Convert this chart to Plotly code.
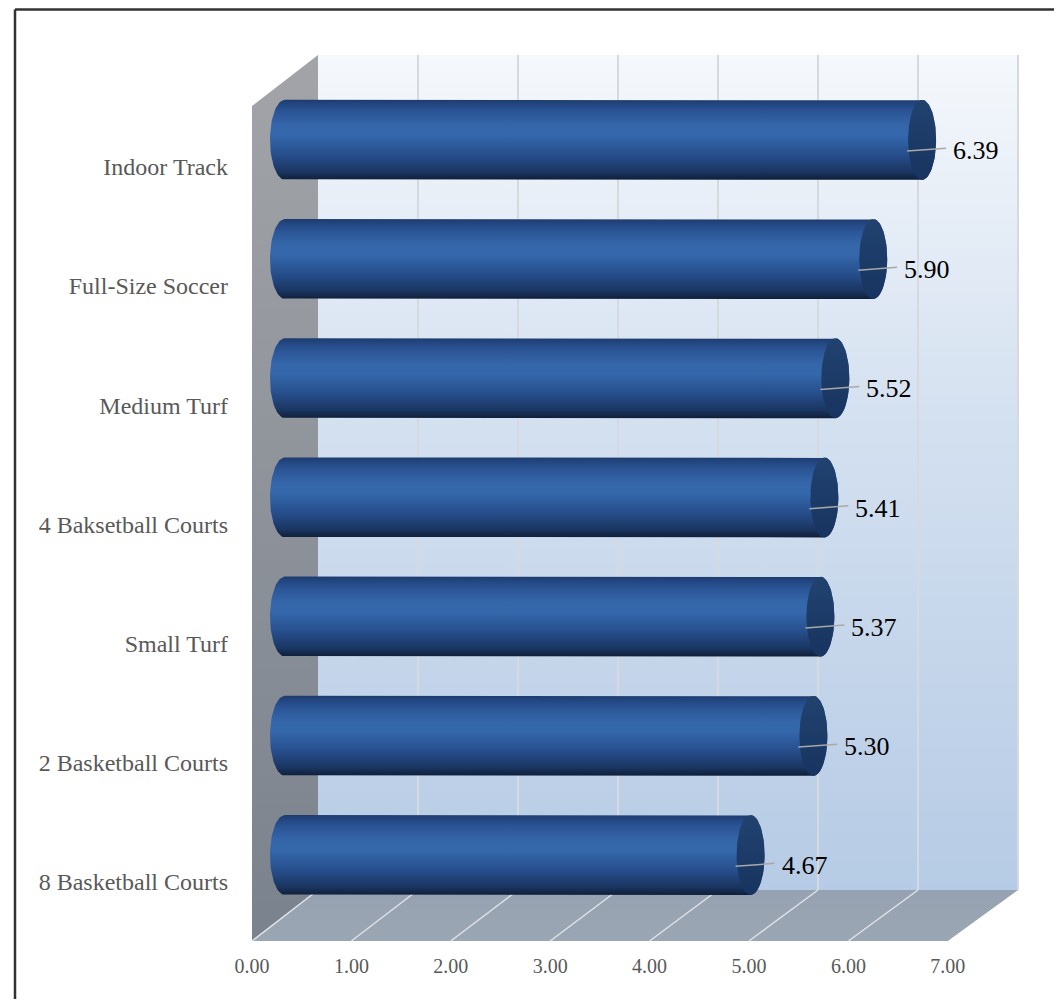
import numpy as np
import plotly.graph_objects as go

# ---------------- data ----------------
categories = ["8 Basketball Courts", "2 Basketball Courts", "Small Turf",
              "4 Baksetball Courts", "Medium Turf", "Full-Size Soccer", "Indoor Track"]
values = [4.67, 5.30, 5.37, 5.41, 5.52, 5.90, 6.39]
x_ticks = [0, 1, 2, 3, 4, 5, 6, 7]
x_tick_labels = ["0.00", "1.00", "2.00", "3.00", "4.00", "5.00", "6.00", "7.00"]

# ---------------- layout geometry (pixels, page coordinates) ----------------
W, H = 1062, 1007
OFF = 8                            # page body margin
WF, HF = W - 2 * OFF, H - 2 * OFF  # figure size
FX0, FS, FY = 252, 99.4, 941       # front floor edge
BX0, BS, BY, TY = 318, 100.0, 890, 55   # back wall
MX0, MS = 285, 99.7                # bar plane
CY0, CS = 855, 119.2               # first bar centre, spacing
XMAX = x_ticks[-1]
DEPTH_DY = FY - BY

SERIF = "Liberation Serif, Times New Roman, serif"

fig = go.Figure()

def poly(xs, ys, **kw):
    xs = list(xs) + [xs[0]]
    ys = list(ys) + [ys[0]]
    fig.add_trace(go.Scatter(x=xs, y=ys, mode="lines", fill="toself",
                             line=dict(width=0), hoverinfo="skip",
                             showlegend=False, **kw))

# back wall
poly([BX0, BX0 + XMAX * BS, BX0 + XMAX * BS, BX0], [TY, TY, BY, BY],
     fillgradient=dict(type="vertical", start=TY, stop=BY,
                       colorscale=[[0, "#f5f8fc"], [0.45, "#d3e0f0"], [1, "#b6cbe5"]]))
# left wall
poly([FX0, FX0, BX0, BX0], [FY, TY + DEPTH_DY, TY, BY],
     fillgradient=dict(type="vertical", start=TY, stop=FY,
                       colorscale=[[0, "#a2a4a8"], [1, "#7a828d"]]))
# floor
poly([FX0, FX0 + XMAX * FS, BX0 + XMAX * BS, BX0], [FY, FY, BY, BY],
     fillgradient=dict(type="vertical", start=BY, stop=FY,
                       colorscale=[[0, "#96a2b1"], [1, "#9ba6b4"]]))

# back-wall gridlines
gx, gy = [], []
for t in x_ticks[1:]:
    gx += [BX0 + t * BS, BX0 + t * BS, None]
    gy += [TY, BY, None]
fig.add_trace(go.Scatter(x=gx, y=gy, mode="lines", line=dict(color="#d6d9dd", width=2),
                         hoverinfo="skip", showlegend=False))
# floor gridlines
fx, fy = [], []
for t in x_ticks[:-1]:
    fx += [FX0 + t * FS, BX0 + t * BS, None]
    fy += [FY, BY, None]
fig.add_trace(go.Scatter(x=fx, y=fy, mode="lines", line=dict(color="#dfe3e8", width=1.5),
                         hoverinfo="skip", showlegend=False))

# dummy trace for front-plane tick axis
fig.add_trace(go.Scatter(x=[0], y=[0], xaxis="x3", yaxis="y", mode="markers",
                         marker=dict(opacity=0), hoverinfo="skip", showlegend=False))

# ---------------- cylinders ----------------
RX_END = 14 / MS
RX_START = 15 / MS
RY = 40 / CS
bar_scale = [[0, "#0f1f3a"], [0.1, "#1a3560"], [0.3, "#264d8a"], [0.55, "#3467ab"],
             [0.68, "#3566aa"], [0.85, "#2b5595"], [0.95, "#224580"], [1, "#1e3c6c"]]
th_r = np.linspace(np.pi / 2, -np.pi / 2, 40)
th_l = np.linspace(3 * np.pi / 2, np.pi / 2, 40)
th_full = np.linspace(0, 2 * np.pi, 80)

for i, (cat, v) in enumerate(zip(categories, values)):
    c = i
    xs = np.concatenate([[0, v], v + RX_END * np.cos(th_r), [v, 0], RX_START * np.cos(th_l)])
    ys = np.concatenate([[c + RY, c + RY], c + RY * np.sin(th_r), [c - RY, c - RY],
                         c + RY * np.sin(th_l)])
    fig.add_trace(go.Scatter(x=xs, y=ys, xaxis="x2", yaxis="y2", mode="lines", fill="toself",
                             line=dict(width=0), hoverinfo="skip", showlegend=False,
                             fillgradient=dict(type="vertical", start=c - RY, stop=c + RY,
                                               colorscale=bar_scale)))
    # end cap
    fig.add_trace(go.Scatter(x=v + RX_END * np.cos(th_full), y=c + RY * np.sin(th_full),
                             xaxis="x2", yaxis="y2", mode="lines", fill="toself",
                             line=dict(width=0), hoverinfo="skip", showlegend=False,
                             fillgradient=dict(type="vertical", start=c - RY, stop=c + RY,
                                               colorscale=[[0, "#183460"], [1, "#21426f"]])))
    # leader line
    fig.add_trace(go.Scatter(x=[v - 0.15, v + 0.24], y=[c - 0.095, c - 0.07],
                             xaxis="x2", yaxis="y2", mode="lines",
                             line=dict(color="#a8a8a8", width=1.5),
                             hoverinfo="skip", showlegend=False))
    fig.add_annotation(x=v + 0.29, y=c - 0.09, xref="x2", yref="y2", text=f"{v:.2f}",
                       showarrow=False, xanchor="left", yanchor="middle",
                       font=dict(family=SERIF, size=26, color="#000000"))

# ---------------- layout ----------------
fig.update_layout(
    width=WF, height=HF,
    margin=dict(l=0, r=0, t=0, b=0),
    paper_bgcolor="white", plot_bgcolor="rgba(0,0,0,0)",
    xaxis=dict(range=[OFF, OFF + WF], visible=False, fixedrange=True),
    yaxis=dict(range=[OFF + HF, OFF], visible=False, fixedrange=True),
    xaxis2=dict(range=[(OFF - MX0) / MS, (OFF + WF - MX0) / MS], overlaying="x",
                anchor="y2", visible=False, fixedrange=True),
    yaxis2=dict(range=[(CY0 - OFF - HF) / CS, (CY0 - OFF) / CS], overlaying="y",
                anchor="free", position=(228 - OFF) / WF, showgrid=False, zeroline=False,
                showline=False, ticks="",
                tickvals=[i - 27 / CS for i in range(len(categories))],
                ticktext=categories,
                tickfont=dict(family=SERIF, size=24, color="#595959"), fixedrange=True),
    xaxis3=dict(range=[(OFF - FX0) / FS, (OFF + WF - FX0) / FS], overlaying="x",
                anchor="free", position=(OFF + HF - 952) / HF, showgrid=False,
                zeroline=False, showline=False, ticks="", tickvals=x_ticks,
                ticktext=x_tick_labels,
                tickfont=dict(family=SERIF, size=20, color="#595959"), fixedrange=True),
    shapes=[
        dict(type="line", xref="x", yref="y", x0=15, y0=9.5, x1=OFF + WF, y1=9.5,
             line=dict(color="#333333", width=2.5)),
        dict(type="line", xref="x", yref="y", x0=15, y0=9.5, x1=15, y1=OFF + HF,
             line=dict(color="#333333", width=2.5)),
    ],
)

fig.write_html("out.html")
